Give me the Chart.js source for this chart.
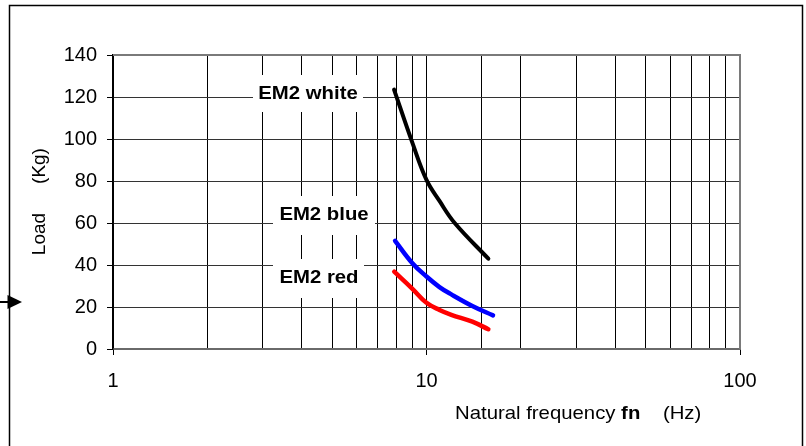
<!DOCTYPE html>
<html>
<head>
<meta charset="utf-8">
<script src="https://cdn.jsdelivr.net/npm/chart.js@4/dist/chart.umd.min.js"></script>
<style>
html,body{margin:0;padding:0;background:#fff;}
#wrap{width:806px;height:446px;position:relative;}
</style>
</head>
<body>
<div id="wrap"><canvas id="c"></canvas></div>
<script>
const xLabelTicks = [1, 10, 100];
const yTicks = [0, 20, 40, 60, 80, 100, 120, 140];

const whiteFreq = [7.88, 9, 10, 11, 12.3, 15.75];
const whiteLoad = [123.5, 98.5, 80.5, 70.5, 60, 43];

const blueFreq = [7.94, 9, 10, 11, 12, 14, 16.3];
const blueLoad = [51.5, 41, 34.5, 29.5, 26, 20.5, 16];

const redFreq = [7.89, 9, 10, 11, 12, 14, 15.75];
const redLoad = [36.8, 28.8, 22, 18.6, 16.3, 13, 9.4];

const seriesNames = ['EM2 white', 'EM2 blue', 'EM2 red'];
const seriesColors = ['#000000', '#0000ff', '#ff0000'];

function pts(xs, ys){ return xs.map((x,i)=>({x:x, y:ys[i]})); }

const FONT = "'Liberation Sans', Arial, sans-serif";
const SX = 1.07;

function stretchText(ctx, text, x, y, align){
  ctx.save();
  ctx.translate(x, y);
  ctx.scale(SX, 1);
  ctx.textAlign = align || 'left';
  ctx.fillText(text, 0, 0);
  ctx.restore();
  return ctx.measureText(text).width * SX;
}

const deco = {
  id: 'deco',
  afterDraw(chart){
    const ctx = chart.ctx;
    const a = chart.chartArea;
    ctx.save();
    ctx.strokeStyle = '#7a7a7a';
    ctx.lineWidth = 2;
    ctx.beginPath();
    ctx.moveTo(a.left, a.top); ctx.lineTo(a.right, a.top); ctx.lineTo(a.right, a.bottom);
    ctx.stroke();
    ctx.strokeStyle = '#000';
    ctx.lineWidth = 1.5;
    ctx.beginPath();
    ctx.moveTo(9.5, 450); ctx.lineTo(9.5, 5.5); ctx.lineTo(802.5, 5.5); ctx.lineTo(802.5, 450);
    ctx.stroke();
    ctx.lineWidth = 2;
    ctx.beginPath(); ctx.moveTo(0, 302); ctx.lineTo(9, 302); ctx.stroke();
    ctx.fillStyle = '#000';
    ctx.beginPath(); ctx.moveTo(7.5, 295); ctx.lineTo(22, 302); ctx.lineTo(7.5, 309); ctx.closePath(); ctx.fill();
    ctx.restore();
  },
  beforeDatasetsDraw(chart){
    const ctx = chart.ctx;
    ctx.save();
    const boxes = [
      {t: seriesNames[0], x0: 253, x1: 363, y0: 75, y1: 112, cx: 308, cy: 94},
      {t: seriesNames[1], x0: 273, x1: 375, y0: 196, y1: 235, cx: 324, cy: 215},
      {t: seriesNames[2], x0: 273, x1: 364, y0: 259, y1: 298, cx: 319, cy: 278}
    ];
    ctx.font = "bold 19px " + FONT;
    ctx.textBaseline = 'middle';
    boxes.forEach(b=>{
      ctx.fillStyle = '#fff';
      ctx.fillRect(b.x0, b.y0, b.x1-b.x0, b.y1-b.y0);
      ctx.fillStyle = '#000';
      stretchText(ctx, b.t, b.cx, b.cy, 'center');
    });
    ctx.fillStyle = '#000';
    ctx.font = "19px " + FONT;
    ctx.textBaseline = 'middle';
    let x = 455, y = 414;
    x += stretchText(ctx, 'Natural frequency ', x, y);
    ctx.font = "bold 19px " + FONT;
    x += stretchText(ctx, 'fn', x, y);
    ctx.font = "19px " + FONT;
    stretchText(ctx, '    (Hz)', x, y);
    ctx.save();
    ctx.translate(40, 0);
    ctx.rotate(-Math.PI/2);
    ctx.textAlign = 'center';
    ctx.fillText('Load', -234, 0);
    ctx.fillText('(Kg)', -166, 0);
    ctx.restore();
    ctx.restore();
  }
};

new Chart(document.getElementById('c'), {
  type: 'scatter',
  data: {
    datasets: [
      {label: seriesNames[0], data: pts(whiteFreq, whiteLoad), borderColor: seriesColors[0], borderWidth: 4},
      {label: seriesNames[1], data: pts(blueFreq, blueLoad), borderColor: seriesColors[1], borderWidth: 4.5},
      {label: seriesNames[2], data: pts(redFreq, redLoad), borderColor: seriesColors[2], borderWidth: 4.5}
    ].map(d=>Object.assign(d, {showLine: true, pointRadius: 0, pointHoverRadius: 0, tension: 0.4, fill: false, borderCapStyle: 'round', borderJoinStyle: 'round'}))
  },
  options: {
    responsive: true,
    maintainAspectRatio: false,
    animation: false,
    events: [],
    layout: {padding: {top: 55, right: 66, bottom: 0, left: 0}},
    plugins: {legend: {display: false}, tooltip: {enabled: false}},
    scales: {
      x: {
        type: 'logarithmic',
        min: 1, max: 100,
        afterFit(s){ s.height = 97; },
        border: {color: '#6a6a6a', width: 2},
        grid: {
          color: '#000',
          lineWidth: 1,
          tickLength: 6,
          tickColor: ctx => (xLabelTicks.includes(ctx.tick && ctx.tick.value) ? '#000' : 'rgba(0,0,0,0)')
        },
        ticks: {
          autoSkip: false,
          maxRotation: 0,
          padding: 14,
          color: '#000',
          font: {family: FONT, size: 20},
          callback: v => (xLabelTicks.includes(v) ? String(v) : '')
        }
      },
      y: {
        min: 0, max: 140,
        afterFit(s){ s.width = 113; },
        afterBuildTicks(s){ s.ticks = yTicks.map(v=>({value: v})); },
        border: {color: '#000', width: 1.5},
        grid: {color: '#333', lineWidth: 1, tickLength: 6, tickColor: '#000'},
        ticks: {
          padding: 10,
          color: '#000',
          font: {family: FONT, size: 20}
        }
      }
    }
  },
  plugins: [deco]
});
</script>
</body>
</html>
